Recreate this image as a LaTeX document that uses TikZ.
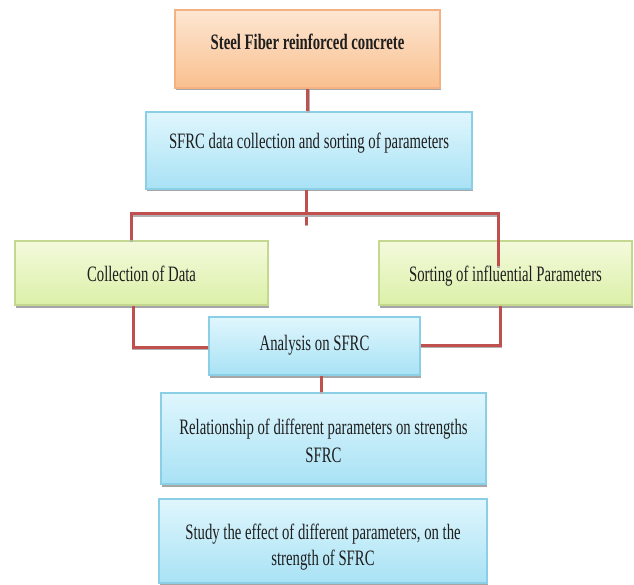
\documentclass[tikz,border=0pt]{standalone}
\usepackage{fontspec}
\setmainfont{Liberation Serif}[FakeStretch=0.67]
\usetikzlibrary{shadows,calc}
\definecolor{lnred}{HTML}{C0504D}
\definecolor{txt}{HTML}{1E1E1E}
\definecolor{orT}{HTML}{FDE6D2}
\definecolor{orB}{HTML}{FAC08F}
\definecolor{orD}{HTML}{F4B183}
\definecolor{blT}{HTML}{E0F6FD}
\definecolor{blB}{HTML}{A8E2F5}
\definecolor{blD}{HTML}{8ACFE5}
\definecolor{grT}{HTML}{F3FADC}
\definecolor{grB}{HTML}{DCF0A8}
\definecolor{grD}{HTML}{C5D88F}
\begin{document}
\begin{tikzpicture}[x=1pt,y=1pt,
  boxbase/.style={rectangle, inner sep=0pt, line width=1.2pt,
    drop shadow={shadow xshift=0.8pt, shadow yshift=-2.5pt, fill=black, opacity=0.35}},
  orangebox/.style={boxbase, draw=orD, top color=orT, bottom color=orB},
  bluebox/.style={boxbase, draw=blD, top color=blT, bottom color=blB},
  greenbox/.style={boxbase, draw=grD, top color=grT, bottom color=grB},
  label/.style={inner sep=0pt, align=center, text=txt,
    font=\fontsize{22}{28}\selectfont},
  conn/.style={draw=lnred, line width=3pt,
    preaction={draw=black!30, line width=3pt, transform canvas={xshift=0.6pt,yshift=-1.5pt}}}
]
\useasboundingbox (0,0) rectangle (634,-585);

% boxes
\node[orangebox, minimum width=265pt, minimum height=78pt] (top) at (307.5,-49) {};
\node[bluebox, minimum width=326pt, minimum height=77pt] (sfrc) at (309,-150.5) {};
\node[greenbox, minimum width=253pt, minimum height=64pt] (collect) at (141.5,-273) {};
\node[greenbox, minimum width=253pt, minimum height=64pt] (sort) at (505.5,-273) {};
\node[bluebox, minimum width=211pt, minimum height=58pt] (analysis) at (314.5,-346) {};
\node[bluebox, minimum width=325pt, minimum height=91pt] (rel) at (323.5,-438.5) {};
\node[bluebox, minimum width=328pt, minimum height=84pt] (study) at (323,-541) {};

% texts
\node[label] (topT) at (top.center |- 0,-44.4) {\strut\bfseries Steel Fiber reinforced concrete};
\node[label] (sfrcT) at (sfrc.center |- 0,-143.4) {\strut SFRC data collection and sorting of parameters};
\node[label] (collectT) at (collect.center |- 0,-275.4) {\strut Collection of Data};
\node[label] (sortT) at (sort.center |- 0,-275.4) {\strut Sorting of influential Parameters};
\node[label] (analysisT) at (analysis.center |- 0,-344.4) {\strut Analysis on SFRC};
\node[label] (relT) at (rel.center |- 0,-442.4) {\strut Relationship of different parameters on strengths\\\strut SFRC};
\node[label] (studyT) at (study.center |- 0,-546.4) {\strut Study the effect of different parameters, on the\\[-2pt]\strut strength of SFRC};

% connectors
\coordinate (stub) at (306,-225);
\coordinate (barL) at (131,-214);
\coordinate (barR) at (498,-214);
\coordinate (lowL) at (133,-347);
\coordinate (lowR) at (500,-345);
\coordinate (ax) at (321,-375);

\draw[conn] (top.south) -- (top.south |- sfrc.north);
\draw[conn] (sfrc.south -| stub) -- (stub);
\draw[conn] (collect.north -| barL) -- (barL) -- (barR) -- ($(sort.north -| barR)+(0,-26)$);
\draw[conn] (collect.south -| lowL) -- (lowL) -- (lowL -| analysis.west);
\draw[conn] (sort.south -| lowR) -- (lowR) -- (lowR -| analysis.east);
\draw[conn] (analysis.south -| ax) -- (ax |- rel.north);
\end{tikzpicture}
\end{document}
